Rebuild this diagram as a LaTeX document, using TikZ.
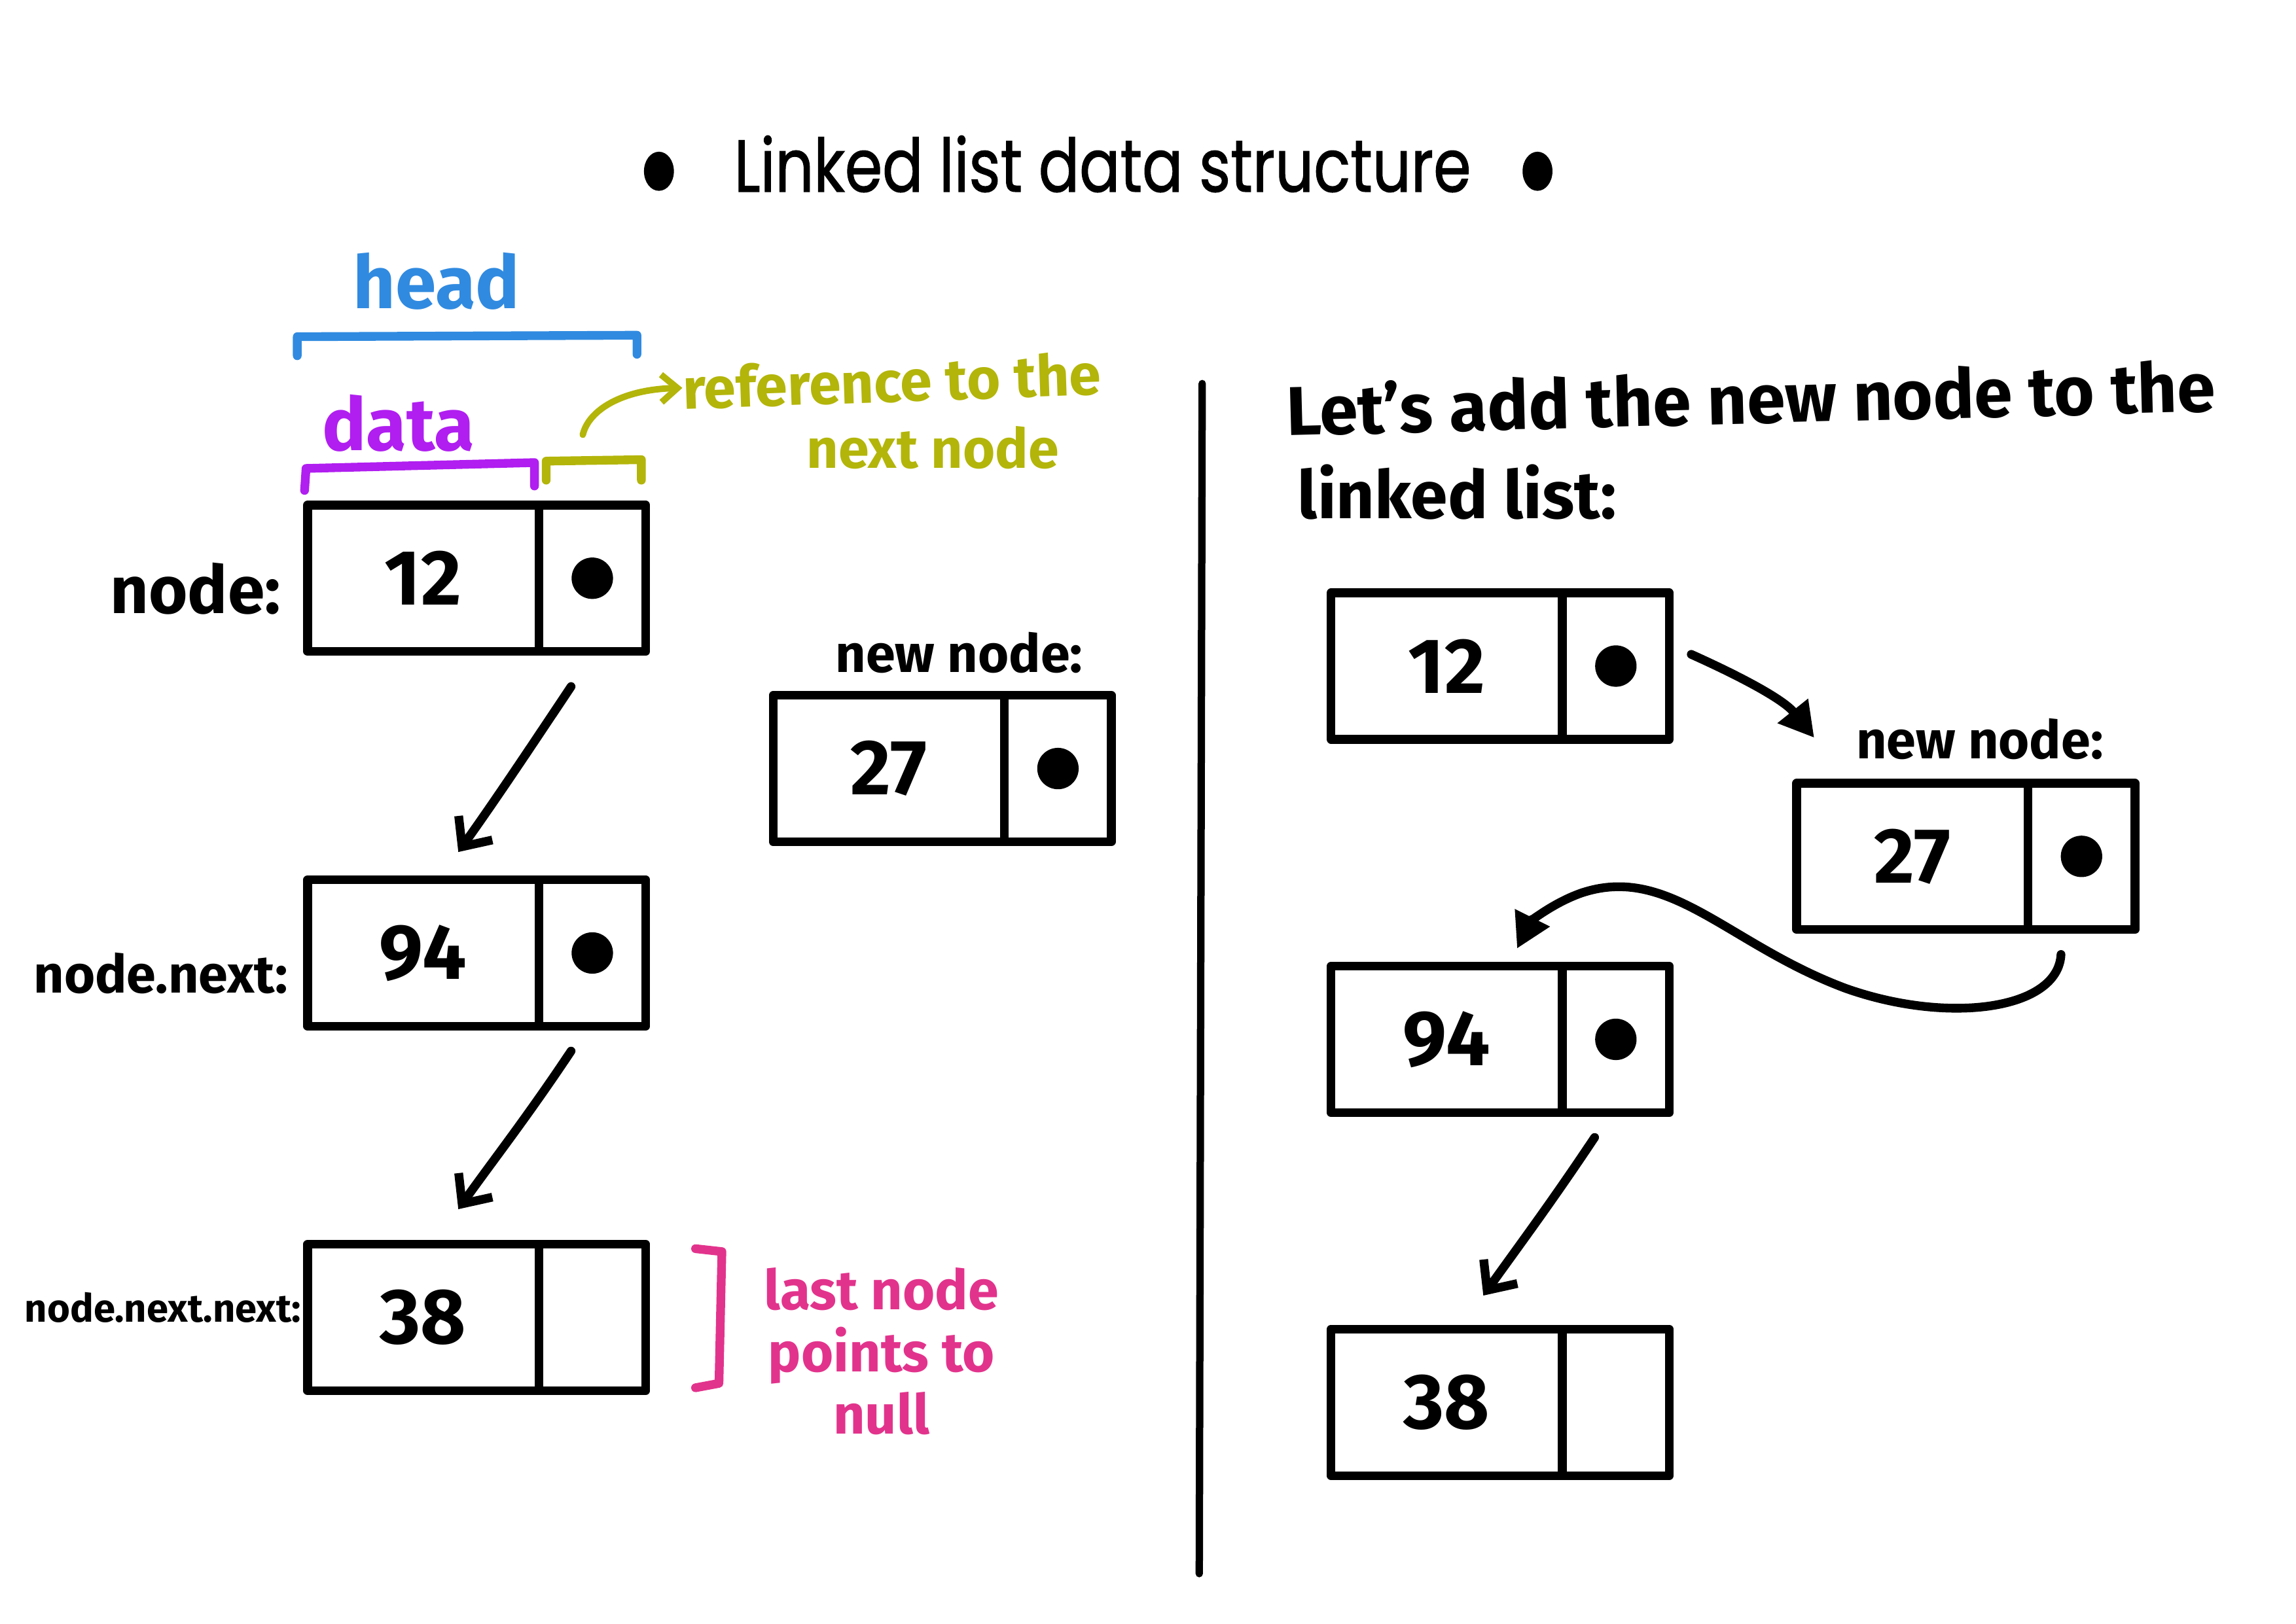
\documentclass[tikz,border=0pt]{standalone}
\usepackage{fontspec}
\usepackage{graphicx}
\setmainfont{Fira Sans}
\newfontfamily\titlefont{Poppins}[FakeBold=1.2]
\usetikzlibrary{positioning,arrows.meta,shapes.geometric}

\definecolor{headblue}{HTML}{308AE0}
\definecolor{datapurple}{HTML}{B01EF0}
\definecolor{refolive}{HTML}{B3B50A}
\definecolor{nullpink}{HTML}{E2338C}

\def\pu{0.022372cm}
\newcommand{\hw}[1]{\bfseries\fontsize{#1}{#1}\selectfont}

\tikzset{
  cell/.style={draw, line width=3.8pt, line join=round, outer sep=0pt, inner sep=0pt, minimum height=100*\pu},
  datacell/.style={cell, minimum width=158*\pu, font=\hw{34}},
  ptrcell/.style={cell, minimum width=73*\pu},
  dot/.style={circle, fill, inner sep=0pt, minimum size=18pt},
  lbl/.style={inner sep=0pt, font=\hw{#1}},
  bullet/.style={ellipse, fill, inner sep=0pt, minimum width=13pt, minimum height=17pt},
  barb/.style={line width=3.8pt, line cap=round, -{Straight Barb[length=10pt,width=18pt,line width=3.8pt]}},
  tri/.style={line width=3.8pt, line cap=round, -{Triangle[length=15pt,width=16pt]}},
  brk/.style={line width=3.8pt, line cap=round, line join=round}
}

\begin{document}
\begin{tikzpicture}[x=\pu, y=-\pu]
  \useasboundingbox (0,0) rectangle (1568,1109);

  % title
  \node[bullet] (tl) at (450,117) {};
  \node[inner sep=0pt, font=\titlefont\fontsize{32}{32}\selectfont] (title) at (753,112) {\scalebox{0.82}[1]{Linked list data structure}};
  \node[bullet] (tr) at (1050,117) {};

  % left: the list
  \node[datacell] (n1) at (289,395) {12};
  \node[ptrcell] (n1p) [right=0pt of n1] {};
  \node[dot] (n1d) at (n1p) {};
  \node[datacell] (n2) at (289,651) {94};
  \node[ptrcell] (n2p) [right=0pt of n2] {};
  \node[dot] (n2d) at (n2p) {};
  \node[datacell] (n3) at (289,900) {38};
  \node[ptrcell] (n3p) [right=0pt of n3] {};
  \node[datacell] (nn) at (607,525) {27};
  \node[ptrcell] (nnp) [right=0pt of nn] {};
  \node[dot] (nnd) at (nnp) {};

  \node[lbl=29, anchor=east] (l1) at (192,402) {node:};
  \node[lbl=23, anchor=east] (l2) at (197,665) {node.next:};
  \node[lbl=17, anchor=east] (l3) at (206,893) {node.next.next:};
  \node[lbl=23] (lnew) at (655,446) {new node:};

  \draw[barb] ([shift={(22,24)}]n1.south east) .. controls +(-30,45) and +(25,-35) .. ([shift={(24,-19)}]n2.north);
  \draw[barb] ([shift={(22,17)}]n2.south east) .. controls +(-30,45) and +(25,-35) .. ([shift={(24,-24)}]n3.north);

  % annotations
  \node[lbl=32, text=headblue] (head) at (298,192) {head};
  \draw[brk, headblue] (203,243) -- (203,230) -- (435,229) -- (435,242);
  \node[lbl=32, text=datapurple] (data) at (272,289) {data};
  \draw[brk, datapurple] (208,335) -- (209,320) -- (365,316) -- (365,332);
  \draw[brk, refolive] (373,328) -- (373,315) -- (438,314) -- (438,328);
  \node[lbl=25, text=refolive, anchor=west, rotate=2] (ref) at (466,265) {reference to the};
  \node[lbl=24, text=refolive] (ref2) at (637,306) {next node};
  \draw[brk, refolive, -{Straight Barb[length=7pt,width=12pt,line width=2.8pt]}, line width=2.8pt] (398,297) .. controls (402,280) and (425,266) .. (ref.west);
  \draw[brk, nullpink] (475,853) -- (493,855) -- (491,945) -- (475,948);
  \node[lbl=24, text=nullpink, align=center] (null) at (602,923) {last node\\[3pt]points to\\[3pt]null};

  % divider
  \draw[line width=3.2pt, line cap=round] (821,262) -- (819,1075);

  % right: inserting the new node
  \node[lbl=30, anchor=west, rotate=1.5] (txt1) at (878,280) {Let's add the new node to the};
  \node[lbl=29, anchor=west] (txt2) at (886,336) {linked list:};

  \node[datacell] (r1) at (988,455) {12};
  \node[ptrcell] (r1p) [right=0pt of r1] {};
  \node[dot] (r1d) at (r1p) {};
  \node[lbl=23] (rnew) at (1352,505) {new node:};
  \node[datacell] (r2) at (1306,585) {27};
  \node[ptrcell] (r2p) [right=0pt of r2] {};
  \node[dot] (r2d) at (r2p) {};
  \node[datacell] (r3) at (988,710) {94};
  \node[ptrcell] (r3p) [right=0pt of r3] {};
  \node[dot] (r3d) at (r3p) {};
  \node[datacell] (r4) at (988,958) {38};
  \node[ptrcell] (r4p) [right=0pt of r4] {};

  \draw[tri] ([shift={(15,-8)}]r1p.east) .. controls +(40,18) and +(-20,-25) .. ([shift={(12,-31)}]r2.north west);
  \draw[tri] ([shift={(-14,17)}]r2p.south) .. controls +(-2,38) and +(70,25) .. (1260,675) .. controls (1180,645) and (1140,590) .. (1080,610) .. controls (1060,617) and (1045,630) .. ([shift={(48,-12)}]r3.north);
  \draw[barb] ([shift={(22,17)}]r3.south east) .. controls +(-30,45) and +(25,-35) .. ([shift={(25,-23)}]r4.north);
\end{tikzpicture}
\end{document}
